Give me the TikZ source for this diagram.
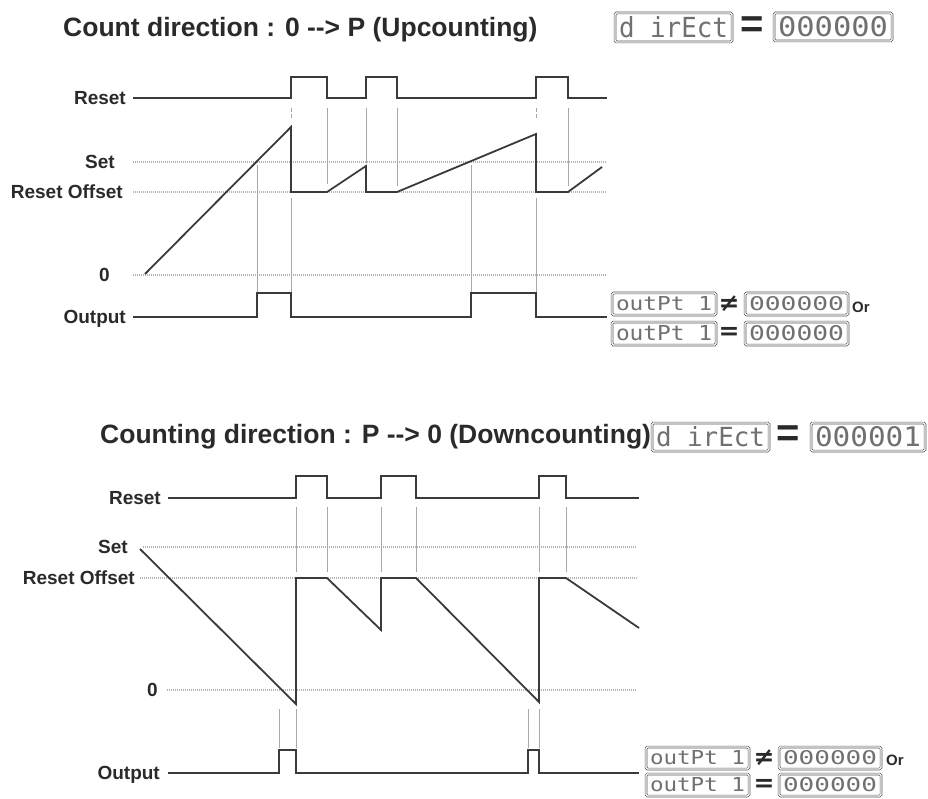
\documentclass[tikz,border=0pt]{standalone}
\usepackage{fontspec}
\setmainfont{Liberation Sans}
\newfontfamily\segfont{DejaVu Sans Mono}
\newfontfamily\symfont{DejaVu Sans}
\definecolor{sigc}{HTML}{3A3A3A}
\definecolor{guidec}{HTML}{A8A8A8}
\definecolor{dotc}{HTML}{B4B4B4}
\definecolor{txtc}{HTML}{2A2A2A}
\definecolor{boxc}{HTML}{555555}
\definecolor{segc}{HTML}{707070}
\newcommand\segdisp[6]{%
  \node[segframe, minimum width={(#4-#2)*1pt}, minimum height={(#5-#3)*1pt}] (#1)
    at ({(#2+#4)/2},{(#3+#5)/2})
    {\resizebox{\dimexpr #4pt-#2pt-8pt\relax}{\dimexpr #5pt-#3pt-8pt\relax}{\segfont #6}};}
\begin{document}
\begin{tikzpicture}[x=1pt,y=-1pt,
  sig/.style={line width=1.8pt, draw=sigc, line join=miter},
  guide/.style={line width=0.9pt, draw=guidec},
  dashguide/.style={line width=0.9pt, draw=guidec, dash pattern=on 4pt off 2pt},
  dotline/.style={line width=1.1pt, draw=dotc, dash pattern=on 1pt off 1pt},
  lbl/.style={anchor=east, font=\fontsize{19}{19}\selectfont\bfseries, text=txtc, inner sep=0pt, text height=13.6pt, text depth=0pt},
  ttl/.style={anchor=base west, font=\fontsize{26.5}{26.5}\selectfont\bfseries, text=txtc, inner sep=0pt},
  segframe/.style={draw=boxc, double=white, double distance=1.1pt, line width=0.7pt, rounded corners=1.5pt, inner sep=0pt, text=segc},
  bigeq/.style={font=\fontsize{40}{40}\selectfont\bfseries, text=txtc, inner sep=0pt},
  smallsym/.style={font=\symfont\fontsize{25}{25}\selectfont\bfseries, text=txtc, inner sep=0pt},
  orlbl/.style={anchor=west, font=\fontsize{15}{15}\selectfont\bfseries, text=txtc, inner sep=0pt, text height=10.7pt, text depth=0pt}
]
\useasboundingbox (0,0) rectangle (928,799);
\fill[white] (0,0) rectangle (928,799);

% ================= TOP: Upcounting =================
\node[ttl] (t1) at (63,37) {Count direction : 0 -{}-{}> P (Upcounting)};
\segdisp{d1}{615}{13}{732}{42}{d irEct}
\node[bigeq] (e1) at (752,27) {=};
\segdisp{v1}{774}{13}{892}{41}{000000}

% labels
\node[lbl] (r1) at (126,98) {Reset};
\node[lbl] (s1) at (115,162) {Set};
\node[lbl] (o1) at (123,192) {Reset Offset};
\node[lbl] (z1) at (110,275) {0};
\node[lbl] (q1) at (126,317) {Output};

% dotted levels
\draw[dotline] (133,162) -- (607,162);
\draw[dotline] (133,192) -- (607,192);
\draw[dotline] (133,275) -- (607,275);

% guides
\draw[dashguide] (291,108) -- (291,120);
\draw[guide] (291,198) -- (291,293);
\draw[guide] (327,108) -- (327,184);
\draw[guide] (366,108) -- (366,163);
\draw[guide] (397,108) -- (397,186);
\draw[guide] (257,165) -- (257,293);
\draw[guide] (471,165) -- (471,293);
\draw[dashguide] (536,108) -- (536,120);
\draw[guide] (536,198) -- (536,293);
\draw[guide] (568,108) -- (568,186);

% signals
\draw[sig] (133,98) -- (291,98) -- (291,77) -- (327,77) -- (327,98) -- (366,98) -- (366,77)
  -- (397,77) -- (397,98) -- (536,98) -- (536,77) -- (568,77) -- (568,98) -- (607,98);
\draw[sig] (145,274) -- (291,127) -- (291,192) -- (327,192) -- (366,166) -- (366,192)
  -- (397,192) -- (536,134) -- (536,192) -- (568,192) -- (602,167);
\draw[sig] (133,317) -- (257,317) -- (257,293) -- (291,293) -- (291,317) -- (471,317)
  -- (471,293) -- (536,293) -- (536,317) -- (607,317);

% output condition
\segdisp{a1}{612}{293}{716}{315}{outPt 1}
\node[smallsym] (ne1) at (729,304) {≠};
\segdisp{b1}{745}{293}{848}{315}{000000}
\node[orlbl] (or1) at (852,307) {Or};
\segdisp{a2}{612}{322}{716}{345}{outPt 1}
\node[smallsym] (eq1) at (729,333) {=};
\segdisp{b2}{745}{322}{848}{345}{000000}

% ================= BOTTOM: Downcounting =================
\node[ttl] (t2) at (100,443) {Counting direction : P -{}-{}> 0 (Downcounting)};
\segdisp{d2}{652}{423}{769}{451}{d irEct}
\node[bigeq] (e2) at (788,436) {=};
\segdisp{v2}{811}{423}{925}{451}{000001}

\node[lbl] (r2) at (161,498) {Reset};
\node[lbl] (s2) at (128,547) {Set};
\node[lbl] (o2) at (135,578) {Reset Offset};
\node[lbl] (z2) at (158,690) {0};
\node[lbl] (q2) at (160,773) {Output};

\draw[dotline] (143,547) -- (637,547);
\draw[dotline] (140,578) -- (637,578);
\draw[dotline] (167,690) -- (637,690);

\foreach \gx in {296,327,381,416,539,566} \draw[guide] (\gx,507) -- (\gx,572);
\foreach \gx in {279,296,528,539} \draw[guide] (\gx,709) -- (\gx,748);

\draw[sig] (168,498) -- (296,498) -- (296,476) -- (327,476) -- (327,498) -- (381,498) -- (381,476)
  -- (416,476) -- (416,498) -- (539,498) -- (539,476) -- (566,476) -- (566,498) -- (639,498);
\draw[sig] (140,549) -- (296,704) -- (296,578) -- (327,578) -- (381,630) -- (381,578)
  -- (416,578) -- (539,702) -- (539,578) -- (566,578) -- (639,628);
\draw[sig] (168,773) -- (279,773) -- (279,750) -- (296,750) -- (296,773) -- (528,773)
  -- (528,750) -- (539,750) -- (539,773) -- (639,773);

\segdisp{a3}{646}{747}{749}{769}{outPt 1}
\node[smallsym] (ne2) at (764,758) {≠};
\segdisp{b3}{779}{747}{881}{769}{000000}
\node[orlbl] (or2) at (886,760) {Or};
\segdisp{a4}{646}{774}{749}{796}{outPt 1}
\node[smallsym] (eq2) at (764,785) {=};
\segdisp{b4}{779}{774}{881}{796}{000000}
\end{tikzpicture}
\end{document}
